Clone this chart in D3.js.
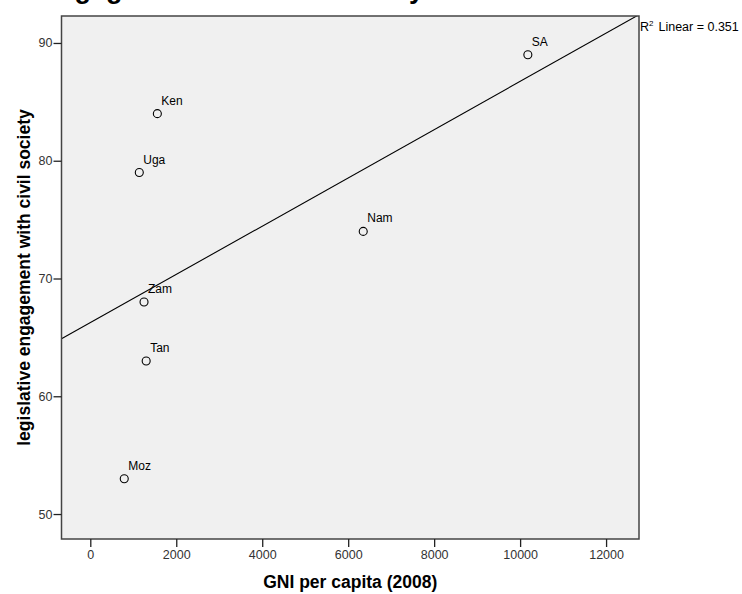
<!DOCTYPE html>
<html>
<head>
<meta charset="utf-8">
<script src="https://cdn.jsdelivr.net/npm/d3@7"></script>
<style>
  html, body { margin: 0; padding: 0; background: #ffffff; }
  svg { display: block; font-family: Arial, "Liberation Sans", sans-serif; }
</style>
</head>
<body>
<svg id="chart" width="742" height="594"></svg>
<script>
// Country codes, GNI per capita (2008) and legislative engagement scores
const countries = ["SA", "Nam", "Ken", "Uga", "Zam", "Tan", "Moz"];
const gniPerCapita = [10180, 6350, 1560, 1140, 1250, 1300, 790];
const engagement = [89, 74, 84, 79, 68, 63, 53];

const xTicks = [0, 2000, 4000, 6000, 8000, 10000, 12000];
const yTicks = [50, 60, 70, 80, 90];
const xDomain = [-670, 12766];
const yDomain = [47.88, 92.29];
const fitLabel = "Linear = 0.351";

const svg = d3.select("#chart");
const frame = { left: 61.5, right: 639, top: 16, bottom: 539 };

const x = d3.scaleLinear().domain(xDomain).range([frame.left, frame.right]);
const y = d3.scaleLinear().domain(yDomain).range([frame.bottom, frame.top]);

// Title, mostly above the visible area
svg.append("text")
  .attr("x", 40).attr("y", -2)
  .attr("font-size", 27).attr("font-weight", "bold")
  .attr("fill", "#000")
  .text("Engagement with civil society");

// Plot background
svg.append("rect")
  .attr("x", frame.left).attr("y", frame.top)
  .attr("width", frame.right - frame.left)
  .attr("height", frame.bottom - frame.top)
  .attr("fill", "#f0f0f0");

// Least-squares fit line
const n = gniPerCapita.length;
const mx = d3.mean(gniPerCapita), my = d3.mean(engagement);
let sxy = 0, sxx = 0;
for (let i = 0; i < n; i++) {
  sxy += (gniPerCapita[i] - mx) * (engagement[i] - my);
  sxx += (gniPerCapita[i] - mx) ** 2;
}
const slope = sxy / sxx, intercept = my - slope * mx;

svg.append("clipPath").attr("id", "plotClip")
  .append("rect")
  .attr("x", frame.left).attr("y", frame.top)
  .attr("width", frame.right - frame.left)
  .attr("height", frame.bottom - frame.top);

svg.append("line")
  .attr("clip-path", "url(#plotClip)")
  .attr("x1", x(xDomain[0])).attr("y1", y(intercept + slope * xDomain[0]))
  .attr("x2", x(xDomain[1])).attr("y2", y(intercept + slope * xDomain[1]))
  .attr("stroke", "#000").attr("stroke-width", 1.1);

// Points with labels
const pts = svg.append("g");
countries.forEach((c, i) => {
  pts.append("circle")
    .attr("cx", x(gniPerCapita[i])).attr("cy", y(engagement[i]))
    .attr("r", 4)
    .attr("fill", "none").attr("stroke", "#000").attr("stroke-width", 1.1);
  pts.append("text")
    .attr("x", x(gniPerCapita[i]) + 4).attr("y", y(engagement[i]) - 9)
    .attr("font-size", 12).attr("fill", "#000")
    .text(c);
});

// Frame
svg.append("rect")
  .attr("x", frame.left).attr("y", frame.top)
  .attr("width", frame.right - frame.left)
  .attr("height", frame.bottom - frame.top)
  .attr("fill", "none").attr("stroke", "#444").attr("stroke-width", 1.5);

// Axes
const xAxis = svg.append("g")
  .attr("transform", `translate(0,${frame.bottom})`)
  .call(d3.axisBottom(x).tickValues(xTicks).tickSize(8).tickPadding(3).tickFormat(d3.format("d")));
const yAxis = svg.append("g")
  .attr("transform", `translate(${frame.left},0)`)
  .call(d3.axisLeft(y).tickValues(yTicks).tickSize(8).tickPadding(1).tickFormat(d3.format("d")));

[xAxis, yAxis].forEach(a => {
  a.select(".domain").remove();
  a.selectAll(".tick line").attr("stroke", "#222").attr("stroke-width", 1.3);
  a.selectAll(".tick text")
    .attr("font-size", 12.5).attr("fill", "#333")
    .attr("font-family", "Arial, 'Liberation Sans', sans-serif");
});

// Axis titles
svg.append("text")
  .attr("x", (frame.left + frame.right) / 2).attr("y", 588)
  .attr("text-anchor", "middle")
  .attr("font-size", 17.5).attr("font-weight", "bold")
  .text("GNI per capita (2008)");

svg.append("text")
  .attr("transform", `translate(24,${(frame.top + frame.bottom) / 2}) rotate(-90)`)
  .attr("text-anchor", "middle")
  .attr("dy", "0.35em")
  .attr("font-size", 17.5).attr("font-weight", "bold")
  .text("legislative engagement with civil society");

// Fit annotation
const ann = svg.append("text")
  .attr("x", frame.right + 1).attr("y", 31)
  .attr("font-size", 12.5).attr("fill", "#000");
ann.append("tspan").text("R");
ann.append("tspan").attr("font-size", 8).attr("dy", -5).text("2");
ann.append("tspan").attr("dy", 5).attr("dx", 5).text(fitLabel);
</script>
</body>
</html>
